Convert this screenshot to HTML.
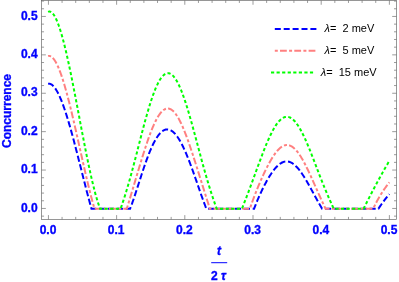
<!DOCTYPE html>
<html><head><meta charset="utf-8"><style>
html,body{margin:0;padding:0;background:#fff;}
svg{display:block;font-family:"Liberation Sans",sans-serif;}
.tl text{font-size:12px;font-weight:bold;fill:#0000ff;}
.lg text{font-size:11px;fill:#000;}
</style></head><body>
<svg width="399" height="282" viewBox="0 0 399 282">
<rect width="399" height="282" fill="#fff"/>
<g fill="none" stroke-width="2" stroke-linecap="butt" stroke-linejoin="miter">
<path stroke="#0000ff" stroke-dasharray="6.2 2.7" d="M48.13 83.69 L48.23 83.68 L48.73 83.64 L49.23 83.66 L49.73 83.75 L50.23 83.89 L50.73 84.09 L51.23 84.35 L51.73 84.67 L52.23 85.04 L52.73 85.47 L53.23 85.95 L53.73 86.48 L54.23 87.07 L54.73 87.71 L55.23 88.40 L55.73 89.13 L56.23 89.92 L56.73 90.75 L57.23 91.63 L57.73 92.55 L58.23 93.52 L58.73 94.53 L59.23 95.58 L59.73 96.68 L60.23 97.81 L60.73 98.99 L61.23 100.20 L61.73 101.45 L62.23 102.74 L62.73 104.07 L63.23 105.43 L63.73 106.82 L64.23 108.25 L64.73 109.71 L65.23 111.19 L65.73 112.71 L66.23 114.26 L66.73 115.84 L67.23 117.44 L67.73 119.07 L68.23 120.73 L68.73 122.41 L69.23 124.11 L69.73 125.84 L70.23 127.59 L70.73 129.36 L71.23 131.14 L71.73 132.95 L72.23 134.77 L72.73 136.62 L73.23 138.47 L73.73 140.34 L74.23 142.23 L74.73 144.13 L75.23 146.04 L75.73 147.96 L76.23 149.89 L76.73 151.84 L77.23 153.79 L77.73 155.74 L78.23 157.71 L78.73 159.67 L79.23 161.65 L79.73 163.62 L80.23 165.60 L80.73 167.58 L81.23 169.56 L81.73 171.54 L82.23 173.52 L82.73 175.50 L83.23 177.48 L83.73 179.45 L84.23 181.41 L84.73 183.37 L85.23 185.32 L85.73 187.27 L86.23 189.20 L86.73 191.13 L87.23 193.04 L87.73 194.94 L88.23 196.83 L88.73 198.71 L89.23 200.57 L89.73 202.42 L90.23 204.25 L90.73 206.06 L91.23 207.85 L91.47 208.70 L130.11 208.70 L130.20 208.47 L130.70 207.17 L131.20 205.84 L131.70 204.49 L132.20 203.10 L132.70 201.69 L133.20 200.25 L133.70 198.80 L134.20 197.32 L134.70 195.83 L135.20 194.32 L135.70 192.80 L136.20 191.27 L136.70 189.73 L137.20 188.18 L137.70 186.63 L138.20 185.08 L138.70 183.52 L139.20 181.96 L139.70 180.41 L140.20 178.86 L140.70 177.32 L141.20 175.78 L141.70 174.25 L142.20 172.73 L142.70 171.22 L143.20 169.72 L143.70 168.24 L144.20 166.77 L144.70 165.31 L145.20 163.88 L145.70 162.46 L146.20 161.06 L146.70 159.69 L147.20 158.33 L147.70 157.00 L148.20 155.69 L148.70 154.40 L149.20 153.14 L149.70 151.91 L150.20 150.70 L150.70 149.52 L151.20 148.37 L151.70 147.25 L152.20 146.15 L152.70 145.09 L153.20 144.06 L153.70 143.06 L154.20 142.10 L154.70 141.16 L155.20 140.26 L155.70 139.39 L156.20 138.56 L156.70 137.76 L157.20 137.00 L157.70 136.27 L158.20 135.58 L158.70 134.92 L159.20 134.30 L159.70 133.71 L160.20 133.16 L160.70 132.65 L161.20 132.18 L161.70 131.74 L162.20 131.34 L162.70 130.98 L163.20 130.65 L163.70 130.37 L164.20 130.12 L164.70 129.91 L165.20 129.73 L165.70 129.59 L166.20 129.50 L166.70 129.43 L167.20 129.41 L167.70 129.42 L168.20 129.47 L168.70 129.56 L169.20 129.69 L169.70 129.85 L170.20 130.05 L170.70 130.28 L171.20 130.55 L171.70 130.86 L172.20 131.20 L172.70 131.58 L173.20 131.99 L173.70 132.44 L174.20 132.92 L174.70 133.43 L175.20 133.98 L175.70 134.57 L176.20 135.18 L176.70 135.83 L177.20 136.51 L177.70 137.23 L178.20 137.97 L178.70 138.74 L179.20 139.55 L179.70 140.38 L180.20 141.25 L180.70 142.14 L181.20 143.06 L181.70 144.01 L182.20 144.99 L182.70 145.99 L183.20 147.01 L183.70 148.07 L184.20 149.15 L184.70 150.25 L185.20 151.37 L185.70 152.52 L186.20 153.69 L186.70 154.88 L187.20 156.09 L187.70 157.32 L188.20 158.57 L188.70 159.84 L189.20 161.12 L189.70 162.42 L190.20 163.74 L190.70 165.07 L191.20 166.42 L191.70 167.78 L192.20 169.15 L192.70 170.53 L193.20 171.93 L193.70 173.33 L194.20 174.74 L194.70 176.16 L195.20 177.58 L195.70 179.01 L196.20 180.45 L196.70 181.89 L197.20 183.33 L197.70 184.77 L198.20 186.21 L198.70 187.65 L199.20 189.09 L199.70 190.53 L200.20 191.96 L200.70 193.39 L201.20 194.81 L201.70 196.22 L202.20 197.62 L202.70 199.01 L203.20 200.39 L203.70 201.76 L204.20 203.11 L204.70 204.44 L205.20 205.76 L205.70 207.06 L206.20 208.34 L206.34 208.70 L254.12 208.70 L254.20 208.48 L254.70 207.17 L255.20 205.87 L255.70 204.60 L256.20 203.35 L256.70 202.13 L257.20 200.92 L257.70 199.73 L258.20 198.56 L258.70 197.41 L259.20 196.27 L259.70 195.15 L260.20 194.05 L260.70 192.96 L261.20 191.89 L261.70 190.84 L262.20 189.79 L262.70 188.77 L263.20 187.76 L263.70 186.76 L264.20 185.78 L264.70 184.81 L265.20 183.86 L265.70 182.92 L266.20 182.00 L266.70 181.09 L267.20 180.20 L267.70 179.33 L268.20 178.47 L268.70 177.63 L269.20 176.80 L269.70 175.99 L270.20 175.20 L270.70 174.43 L271.20 173.68 L271.70 172.94 L272.20 172.22 L272.70 171.52 L273.20 170.85 L273.70 170.19 L274.20 169.55 L274.70 168.94 L275.20 168.34 L275.70 167.77 L276.20 167.22 L276.70 166.69 L277.20 166.19 L277.70 165.71 L278.20 165.25 L278.70 164.82 L279.20 164.41 L279.70 164.03 L280.20 163.67 L280.70 163.34 L281.20 163.03 L281.70 162.75 L282.20 162.50 L282.70 162.27 L283.20 162.07 L283.70 161.90 L284.20 161.75 L284.70 161.63 L285.20 161.54 L285.70 161.48 L286.20 161.44 L286.70 161.43 L287.20 161.45 L287.70 161.50 L288.20 161.57 L288.70 161.68 L289.20 161.81 L289.70 161.97 L290.20 162.15 L290.70 162.36 L291.20 162.60 L291.70 162.87 L292.20 163.16 L292.70 163.48 L293.20 163.82 L293.70 164.19 L294.20 164.59 L294.70 165.01 L295.20 165.45 L295.70 165.92 L296.20 166.42 L296.70 166.93 L297.20 167.47 L297.70 168.03 L298.20 168.61 L298.70 169.22 L299.20 169.84 L299.70 170.48 L300.20 171.15 L300.70 171.83 L301.20 172.53 L301.70 173.25 L302.20 173.98 L302.70 174.73 L303.20 175.49 L303.70 176.27 L304.20 177.07 L304.70 177.87 L305.20 178.69 L305.70 179.52 L306.20 180.36 L306.70 181.21 L307.20 182.07 L307.70 182.94 L308.20 183.82 L308.70 184.70 L309.20 185.59 L309.70 186.49 L310.20 187.39 L310.70 188.29 L311.20 189.20 L311.70 190.11 L312.20 191.03 L312.70 191.94 L313.20 192.86 L313.70 193.77 L314.20 194.69 L314.70 195.60 L315.20 196.51 L315.70 197.42 L316.20 198.33 L316.70 199.24 L317.20 200.14 L317.70 201.04 L318.20 201.94 L318.70 202.83 L319.20 203.71 L319.70 204.60 L320.20 205.48 L320.70 206.35 L321.20 207.22 L321.70 208.09 L322.05 208.70 L378.43 208.70 L378.50 208.59 L379.00 207.86 L379.50 207.13 L380.00 206.41 L380.50 205.68 L381.00 204.97 L381.50 204.25 L382.00 203.55 L382.50 202.85 L383.00 202.15 L383.50 201.47 L384.00 200.79 L384.50 200.12 L385.00 199.46 L385.50 198.81 L386.00 198.17 L386.50 197.54 L387.00 196.92 L387.50 196.31 L388.00 195.72 L388.50 195.14 L389.00 194.57 L389.40 194.13"/>
<path stroke="#ff8080" stroke-dasharray="3 2.2 6.8 2.3" d="M48.13 56.05 L48.23 56.02 L48.73 55.94 L49.23 55.94 L49.73 56.01 L50.23 56.15 L50.73 56.36 L51.23 56.64 L51.73 56.99 L52.23 57.40 L52.73 57.88 L53.23 58.43 L53.73 59.03 L54.23 59.70 L54.73 60.43 L55.23 61.22 L55.73 62.07 L56.23 62.97 L56.73 63.93 L57.23 64.95 L57.73 66.02 L58.23 67.14 L58.73 68.31 L59.23 69.53 L59.73 70.80 L60.23 72.12 L60.73 73.49 L61.23 74.90 L61.73 76.35 L62.23 77.85 L62.73 79.38 L63.23 80.96 L63.73 82.58 L64.23 84.24 L64.73 85.93 L65.23 87.66 L65.73 89.42 L66.23 91.21 L66.73 93.04 L67.23 94.90 L67.73 96.79 L68.23 98.70 L68.73 100.65 L69.23 102.62 L69.73 104.61 L70.23 106.63 L70.73 108.67 L71.23 110.73 L71.73 112.81 L72.23 114.91 L72.73 117.03 L73.23 119.17 L73.73 121.32 L74.23 123.48 L74.73 125.66 L75.23 127.85 L75.73 130.04 L76.23 132.25 L76.73 134.47 L77.23 136.69 L77.73 138.92 L78.23 141.16 L78.73 143.39 L79.23 145.63 L79.73 147.87 L80.23 150.11 L80.73 152.35 L81.23 154.59 L81.73 156.82 L82.23 159.05 L82.73 161.27 L83.23 163.48 L83.73 165.69 L84.23 167.88 L84.73 170.06 L85.23 172.24 L85.73 174.39 L86.23 176.54 L86.73 178.67 L87.23 180.78 L87.73 182.87 L88.23 184.94 L88.73 187.00 L89.23 189.03 L89.73 191.04 L90.23 193.02 L90.73 194.98 L91.23 196.91 L91.73 198.81 L92.23 200.69 L92.73 202.54 L93.23 204.35 L93.73 206.13 L94.23 207.88 L94.47 208.70 L126.81 208.70 L126.90 208.40 L127.40 206.76 L127.90 205.11 L128.40 203.46 L128.90 201.81 L129.40 200.16 L129.90 198.51 L130.40 196.85 L130.90 195.19 L131.40 193.53 L131.90 191.87 L132.40 190.20 L132.90 188.53 L133.40 186.86 L133.90 185.19 L134.40 183.52 L134.90 181.84 L135.40 180.16 L135.90 178.49 L136.40 176.81 L136.90 175.14 L137.40 173.46 L137.90 171.79 L138.40 170.12 L138.90 168.46 L139.40 166.80 L139.90 165.14 L140.40 163.49 L140.90 161.85 L141.40 160.22 L141.90 158.59 L142.40 156.97 L142.90 155.37 L143.40 153.77 L143.90 152.19 L144.40 150.62 L144.90 149.07 L145.40 147.53 L145.90 146.01 L146.40 144.50 L146.90 143.02 L147.40 141.55 L147.90 140.10 L148.40 138.68 L148.90 137.27 L149.40 135.89 L149.90 134.54 L150.40 133.21 L150.90 131.90 L151.40 130.62 L151.90 129.37 L152.40 128.15 L152.90 126.96 L153.40 125.80 L153.90 124.67 L154.40 123.58 L154.90 122.51 L155.40 121.48 L155.90 120.49 L156.40 119.53 L156.90 118.61 L157.40 117.72 L157.90 116.87 L158.40 116.06 L158.90 115.29 L159.40 114.56 L159.90 113.86 L160.40 113.21 L160.90 112.60 L161.40 112.03 L161.90 111.50 L162.40 111.01 L162.90 110.57 L163.40 110.17 L163.90 109.81 L164.40 109.50 L164.90 109.22 L165.40 109.00 L165.90 108.81 L166.40 108.67 L166.90 108.58 L167.40 108.53 L167.90 108.52 L168.40 108.55 L168.90 108.63 L169.40 108.76 L169.90 108.93 L170.40 109.14 L170.90 109.39 L171.40 109.69 L171.90 110.03 L172.40 110.41 L172.90 110.84 L173.40 111.31 L173.90 111.81 L174.40 112.36 L174.90 112.95 L175.40 113.58 L175.90 114.25 L176.40 114.96 L176.90 115.71 L177.40 116.49 L177.90 117.31 L178.40 118.17 L178.90 119.06 L179.40 119.99 L179.90 120.95 L180.40 121.94 L180.90 122.97 L181.40 124.03 L181.90 125.12 L182.40 126.24 L182.90 127.39 L183.40 128.56 L183.90 129.77 L184.40 131.00 L184.90 132.25 L185.40 133.53 L185.90 134.84 L186.40 136.16 L186.90 137.51 L187.40 138.88 L187.90 140.27 L188.40 141.68 L188.90 143.10 L189.40 144.55 L189.90 146.00 L190.40 147.48 L190.90 148.96 L191.40 150.46 L191.90 151.97 L192.40 153.50 L192.90 155.03 L193.40 156.57 L193.90 158.12 L194.40 159.68 L194.90 161.24 L195.40 162.82 L195.90 164.39 L196.40 165.97 L196.90 167.56 L197.40 169.15 L197.90 170.74 L198.40 172.33 L198.90 173.92 L199.40 175.52 L199.90 177.11 L200.40 178.71 L200.90 180.30 L201.40 181.90 L201.90 183.49 L202.40 185.08 L202.90 186.67 L203.40 188.26 L203.90 189.85 L204.40 191.44 L204.90 193.03 L205.40 194.62 L205.90 196.21 L206.40 197.79 L206.90 199.38 L207.40 200.97 L207.90 202.56 L208.40 204.16 L208.90 205.76 L209.40 207.36 L209.81 208.70 L249.95 208.70 L250.05 208.40 L250.55 206.89 L251.05 205.41 L251.55 203.95 L252.05 202.52 L252.55 201.11 L253.05 199.73 L253.55 198.37 L254.05 197.03 L254.55 195.70 L255.05 194.40 L255.55 193.11 L256.05 191.84 L256.55 190.59 L257.05 189.34 L257.55 188.12 L258.05 186.90 L258.55 185.70 L259.05 184.51 L259.55 183.33 L260.05 182.17 L260.55 181.02 L261.05 179.88 L261.55 178.75 L262.05 177.63 L262.55 176.53 L263.05 175.43 L263.55 174.35 L264.05 173.28 L264.55 172.22 L265.05 171.18 L265.55 170.15 L266.05 169.13 L266.55 168.12 L267.05 167.13 L267.55 166.16 L268.05 165.20 L268.55 164.25 L269.05 163.32 L269.55 162.41 L270.05 161.51 L270.55 160.64 L271.05 159.78 L271.55 158.93 L272.05 158.11 L272.55 157.31 L273.05 156.53 L273.55 155.77 L274.05 155.03 L274.55 154.31 L275.05 153.62 L275.55 152.95 L276.05 152.30 L276.55 151.67 L277.05 151.08 L277.55 150.50 L278.05 149.96 L278.55 149.44 L279.05 148.94 L279.55 148.48 L280.05 148.04 L280.55 147.63 L281.05 147.25 L281.55 146.90 L282.05 146.57 L282.55 146.28 L283.05 146.02 L283.55 145.79 L284.05 145.58 L284.55 145.41 L285.05 145.27 L285.55 145.17 L286.05 145.09 L286.55 145.05 L287.05 145.03 L287.55 145.05 L288.05 145.10 L288.55 145.18 L289.05 145.30 L289.55 145.45 L290.05 145.62 L290.55 145.83 L291.05 146.08 L291.55 146.35 L292.05 146.65 L292.55 146.99 L293.05 147.36 L293.55 147.75 L294.05 148.18 L294.55 148.64 L295.05 149.12 L295.55 149.64 L296.05 150.18 L296.55 150.75 L297.05 151.35 L297.55 151.98 L298.05 152.63 L298.55 153.31 L299.05 154.02 L299.55 154.75 L300.05 155.50 L300.55 156.28 L301.05 157.08 L301.55 157.91 L302.05 158.75 L302.55 159.62 L303.05 160.50 L303.55 161.41 L304.05 162.33 L304.55 163.28 L305.05 164.23 L305.55 165.21 L306.05 166.20 L306.55 167.20 L307.05 168.22 L307.55 169.25 L308.05 170.30 L308.55 171.35 L309.05 172.41 L309.55 173.49 L310.05 174.57 L310.55 175.66 L311.05 176.76 L311.55 177.86 L312.05 178.97 L312.55 180.08 L313.05 181.20 L313.55 182.32 L314.05 183.45 L314.55 184.57 L315.05 185.70 L315.55 186.82 L316.05 187.95 L316.55 189.08 L317.05 190.20 L317.55 191.32 L318.05 192.44 L318.55 193.56 L319.05 194.67 L319.55 195.78 L320.05 196.89 L320.55 197.99 L321.05 199.09 L321.55 200.19 L322.05 201.28 L322.55 202.37 L323.05 203.45 L323.55 204.53 L324.05 205.61 L324.55 206.68 L325.05 207.75 L325.50 208.70 L373.21 208.70 L373.30 208.51 L373.80 207.45 L374.30 206.41 L374.80 205.38 L375.30 204.38 L375.80 203.40 L376.30 202.44 L376.80 201.49 L377.30 200.57 L377.80 199.66 L378.30 198.77 L378.80 197.89 L379.30 197.03 L379.80 196.18 L380.30 195.35 L380.80 194.54 L381.30 193.74 L381.80 192.95 L382.30 192.17 L382.80 191.41 L383.30 190.66 L383.80 189.92 L384.30 189.19 L384.80 188.47 L385.30 187.77 L385.80 187.07 L386.30 186.38 L386.80 185.70 L387.30 185.03 L387.80 184.37 L388.30 183.71 L388.80 183.06 L389.30 182.42 L389.40 182.29"/>
<path stroke="#00ff00" stroke-dasharray="3.2 2.36" d="M48.13 11.87 L48.23 11.82 L48.73 11.66 L49.23 11.58 L49.73 11.60 L50.23 11.70 L50.73 11.89 L51.23 12.17 L51.73 12.53 L52.23 12.97 L52.73 13.49 L53.23 14.09 L53.73 14.77 L54.23 15.52 L54.73 16.35 L55.23 17.25 L55.73 18.22 L56.23 19.27 L56.73 20.38 L57.23 21.56 L57.73 22.80 L58.23 24.11 L58.73 25.48 L59.23 26.92 L59.73 28.41 L60.23 29.96 L60.73 31.56 L61.23 33.23 L61.73 34.94 L62.23 36.71 L62.73 38.53 L63.23 40.39 L63.73 42.31 L64.23 44.27 L64.73 46.27 L65.23 48.32 L65.73 50.41 L66.23 52.54 L66.73 54.71 L67.23 56.91 L67.73 59.15 L68.23 61.43 L68.73 63.73 L69.23 66.07 L69.73 68.44 L70.23 70.83 L70.73 73.26 L71.23 75.70 L71.73 78.17 L72.23 80.67 L72.73 83.18 L73.23 85.71 L73.73 88.26 L74.23 90.83 L74.73 93.41 L75.23 96.00 L75.73 98.61 L76.23 101.22 L76.73 103.84 L77.23 106.47 L77.73 109.11 L78.23 111.75 L78.73 114.39 L79.23 117.03 L79.73 119.68 L80.23 122.32 L80.73 124.95 L81.23 127.59 L81.73 130.21 L82.23 132.83 L82.73 135.44 L83.23 138.03 L83.73 140.62 L84.23 143.19 L84.73 145.74 L85.23 148.28 L85.73 150.80 L86.23 153.30 L86.73 155.78 L87.23 158.23 L87.73 160.66 L88.23 163.06 L88.73 165.44 L89.23 167.79 L89.73 170.10 L90.23 172.39 L90.73 174.64 L91.23 176.86 L91.73 179.03 L92.23 181.18 L92.73 183.28 L93.23 185.34 L93.73 187.36 L94.23 189.33 L94.73 191.26 L95.23 193.14 L95.73 194.97 L96.23 196.76 L96.73 198.49 L97.23 200.16 L97.73 201.79 L98.23 203.36 L98.73 204.87 L99.23 206.32 L99.73 207.71 L100.10 208.70 L120.58 208.70 L120.60 208.65 L121.10 207.25 L121.60 205.83 L122.10 204.38 L122.60 202.91 L123.10 201.42 L123.60 199.90 L124.10 198.36 L124.60 196.80 L125.10 195.22 L125.60 193.61 L126.10 191.98 L126.60 190.33 L127.10 188.65 L127.60 186.96 L128.10 185.24 L128.60 183.51 L129.10 181.75 L129.60 179.98 L130.10 178.19 L130.60 176.38 L131.10 174.55 L131.60 172.71 L132.10 170.85 L132.60 168.98 L133.10 167.10 L133.60 165.21 L134.10 163.30 L134.60 161.38 L135.10 159.46 L135.60 157.53 L136.10 155.59 L136.60 153.65 L137.10 151.70 L137.60 149.75 L138.10 147.80 L138.60 145.85 L139.10 143.90 L139.60 141.95 L140.10 140.01 L140.60 138.07 L141.10 136.14 L141.60 134.21 L142.10 132.29 L142.60 130.39 L143.10 128.49 L143.60 126.61 L144.10 124.74 L144.60 122.89 L145.10 121.05 L145.60 119.23 L146.10 117.43 L146.60 115.66 L147.10 113.90 L147.60 112.16 L148.10 110.45 L148.60 108.77 L149.10 107.11 L149.60 105.48 L150.10 103.88 L150.60 102.31 L151.10 100.77 L151.60 99.26 L152.10 97.79 L152.60 96.35 L153.10 94.94 L153.60 93.58 L154.10 92.25 L154.60 90.95 L155.10 89.70 L155.60 88.49 L156.10 87.32 L156.60 86.19 L157.10 85.10 L157.60 84.06 L158.10 83.06 L158.60 82.11 L159.10 81.20 L159.60 80.34 L160.10 79.52 L160.60 78.75 L161.10 78.03 L161.60 77.36 L162.10 76.74 L162.60 76.17 L163.10 75.64 L163.60 75.17 L164.10 74.75 L164.60 74.38 L165.10 74.06 L165.60 73.79 L166.10 73.57 L166.60 73.40 L167.10 73.29 L167.60 73.22 L168.10 73.21 L168.60 73.25 L169.10 73.34 L169.60 73.48 L170.10 73.68 L170.60 73.92 L171.10 74.22 L171.60 74.56 L172.10 74.96 L172.60 75.41 L173.10 75.90 L173.60 76.45 L174.10 77.04 L174.60 77.68 L175.10 78.37 L175.60 79.11 L176.10 79.89 L176.60 80.72 L177.10 81.60 L177.60 82.52 L178.10 83.48 L178.60 84.49 L179.10 85.54 L179.60 86.63 L180.10 87.77 L180.60 88.94 L181.10 90.15 L181.60 91.40 L182.10 92.69 L182.60 94.01 L183.10 95.37 L183.60 96.76 L184.10 98.18 L184.60 99.64 L185.10 101.13 L185.60 102.65 L186.10 104.20 L186.60 105.77 L187.10 107.37 L187.60 109.00 L188.10 110.65 L188.60 112.33 L189.10 114.02 L189.60 115.74 L190.10 117.48 L190.60 119.23 L191.10 121.00 L191.60 122.79 L192.10 124.59 L192.60 126.40 L193.10 128.23 L193.60 130.06 L194.10 131.91 L194.60 133.76 L195.10 135.62 L195.60 137.49 L196.10 139.36 L196.60 141.23 L197.10 143.11 L197.60 144.99 L198.10 146.86 L198.60 148.74 L199.10 150.61 L199.60 152.48 L200.10 154.34 L200.60 156.20 L201.10 158.05 L201.60 159.89 L202.10 161.73 L202.60 163.55 L203.10 165.37 L203.60 167.17 L204.10 168.96 L204.60 170.74 L205.10 172.50 L205.60 174.25 L206.10 175.99 L206.60 177.70 L207.10 179.41 L207.60 181.09 L208.10 182.76 L208.60 184.41 L209.10 186.05 L209.60 187.66 L210.10 189.26 L210.60 190.84 L211.10 192.40 L211.60 193.95 L212.10 195.48 L212.60 196.99 L213.10 198.48 L213.60 199.95 L214.10 201.41 L214.60 202.86 L215.10 204.28 L215.60 205.70 L216.10 207.10 L216.60 208.49 L216.68 208.70 L241.99 208.70 L242.00 208.67 L242.50 207.39 L243.00 206.10 L243.50 204.81 L244.00 203.53 L244.50 202.23 L245.00 200.94 L245.50 199.65 L246.00 198.34 L246.50 197.04 L247.00 195.73 L247.50 194.42 L248.00 193.10 L248.50 191.78 L249.00 190.45 L249.50 189.12 L250.00 187.79 L250.50 186.45 L251.00 185.10 L251.50 183.75 L252.00 182.40 L252.50 181.05 L253.00 179.69 L253.50 178.33 L254.00 176.96 L254.50 175.60 L255.00 174.23 L255.50 172.86 L256.00 171.49 L256.50 170.13 L257.00 168.76 L257.50 167.40 L258.00 166.03 L258.50 164.68 L259.00 163.32 L259.50 161.97 L260.00 160.62 L260.50 159.29 L261.00 157.95 L261.50 156.63 L262.00 155.31 L262.50 154.00 L263.00 152.71 L263.50 151.42 L264.00 150.14 L264.50 148.88 L265.00 147.63 L265.50 146.40 L266.00 145.18 L266.50 143.97 L267.00 142.79 L267.50 141.61 L268.00 140.46 L268.50 139.33 L269.00 138.22 L269.50 137.12 L270.00 136.05 L270.50 135.00 L271.00 133.98 L271.50 132.97 L272.00 131.99 L272.50 131.04 L273.00 130.11 L273.50 129.21 L274.00 128.34 L274.50 127.49 L275.00 126.67 L275.50 125.88 L276.00 125.12 L276.50 124.40 L277.00 123.70 L277.50 123.03 L278.00 122.39 L278.50 121.79 L279.00 121.22 L279.50 120.68 L280.00 120.18 L280.50 119.71 L281.00 119.27 L281.50 118.87 L282.00 118.50 L282.50 118.17 L283.00 117.88 L283.50 117.62 L284.00 117.39 L284.50 117.20 L285.00 117.05 L285.50 116.93 L286.00 116.85 L286.50 116.81 L287.00 116.80 L287.50 116.83 L288.00 116.90 L288.50 117.00 L289.00 117.13 L289.50 117.31 L290.00 117.52 L290.50 117.76 L291.00 118.04 L291.50 118.36 L292.00 118.71 L292.50 119.10 L293.00 119.52 L293.50 119.97 L294.00 120.46 L294.50 120.98 L295.00 121.53 L295.50 122.12 L296.00 122.74 L296.50 123.39 L297.00 124.07 L297.50 124.78 L298.00 125.52 L298.50 126.29 L299.00 127.09 L299.50 127.92 L300.00 128.78 L300.50 129.66 L301.00 130.57 L301.50 131.50 L302.00 132.46 L302.50 133.44 L303.00 134.44 L303.50 135.47 L304.00 136.52 L304.50 137.59 L305.00 138.67 L305.50 139.78 L306.00 140.91 L306.50 142.05 L307.00 143.21 L307.50 144.39 L308.00 145.58 L308.50 146.78 L309.00 148.00 L309.50 149.23 L310.00 150.47 L310.50 151.72 L311.00 152.98 L311.50 154.25 L312.00 155.53 L312.50 156.81 L313.00 158.10 L313.50 159.39 L314.00 160.69 L314.50 161.99 L315.00 163.30 L315.50 164.61 L316.00 165.91 L316.50 167.22 L317.00 168.53 L317.50 169.83 L318.00 171.14 L318.50 172.44 L319.00 173.74 L319.50 175.03 L320.00 176.32 L320.50 177.60 L321.00 178.88 L321.50 180.15 L322.00 181.41 L322.50 182.67 L323.00 183.92 L323.50 185.16 L324.00 186.39 L324.50 187.62 L325.00 188.83 L325.50 190.04 L326.00 191.24 L326.50 192.42 L327.00 193.60 L327.50 194.77 L328.00 195.93 L328.50 197.08 L329.00 198.22 L329.50 199.36 L330.00 200.48 L330.50 201.60 L331.00 202.71 L331.50 203.81 L332.00 204.91 L332.50 206.01 L333.00 207.09 L333.50 208.18 L333.74 208.70 L363.63 208.70 L363.70 208.55 L364.20 207.54 L364.70 206.54 L365.20 205.53 L365.70 204.53 L366.20 203.54 L366.70 202.54 L367.20 201.55 L367.70 200.56 L368.20 199.58 L368.70 198.60 L369.20 197.62 L369.70 196.64 L370.20 195.67 L370.70 194.70 L371.20 193.73 L371.70 192.77 L372.20 191.81 L372.70 190.85 L373.20 189.90 L373.70 188.95 L374.20 188.00 L374.70 187.05 L375.20 186.11 L375.70 185.17 L376.20 184.24 L376.70 183.30 L377.20 182.38 L377.70 181.45 L378.20 180.53 L378.70 179.61 L379.20 178.69 L379.70 177.78 L380.20 176.87 L380.70 175.96 L381.20 175.06 L381.70 174.16 L382.20 173.27 L382.70 172.37 L383.20 171.49 L383.70 170.60 L384.20 169.72 L384.70 168.84 L385.20 167.96 L385.70 167.09 L386.20 166.22 L386.70 165.35 L387.20 164.49 L387.70 163.63 L388.20 162.78 L388.70 161.93 L389.20 161.08 L389.40 160.74"/>
</g>
<g stroke="#666" stroke-width="0.65" fill="none"><line x1="48.43" y1="219.40" x2="48.43" y2="215.10"/><line x1="48.43" y1="0.45" x2="48.43" y2="4.75"/><line x1="62.07" y1="219.40" x2="62.07" y2="216.90"/><line x1="62.07" y1="0.45" x2="62.07" y2="2.95"/><line x1="75.71" y1="219.40" x2="75.71" y2="216.90"/><line x1="75.71" y1="0.45" x2="75.71" y2="2.95"/><line x1="89.34" y1="219.40" x2="89.34" y2="216.90"/><line x1="89.34" y1="0.45" x2="89.34" y2="2.95"/><line x1="102.98" y1="219.40" x2="102.98" y2="216.90"/><line x1="102.98" y1="0.45" x2="102.98" y2="2.95"/><line x1="116.62" y1="219.40" x2="116.62" y2="215.10"/><line x1="116.62" y1="0.45" x2="116.62" y2="4.75"/><line x1="130.26" y1="219.40" x2="130.26" y2="216.90"/><line x1="130.26" y1="0.45" x2="130.26" y2="2.95"/><line x1="143.90" y1="219.40" x2="143.90" y2="216.90"/><line x1="143.90" y1="0.45" x2="143.90" y2="2.95"/><line x1="157.53" y1="219.40" x2="157.53" y2="216.90"/><line x1="157.53" y1="0.45" x2="157.53" y2="2.95"/><line x1="171.17" y1="219.40" x2="171.17" y2="216.90"/><line x1="171.17" y1="0.45" x2="171.17" y2="2.95"/><line x1="184.81" y1="219.40" x2="184.81" y2="215.10"/><line x1="184.81" y1="0.45" x2="184.81" y2="4.75"/><line x1="198.45" y1="219.40" x2="198.45" y2="216.90"/><line x1="198.45" y1="0.45" x2="198.45" y2="2.95"/><line x1="212.09" y1="219.40" x2="212.09" y2="216.90"/><line x1="212.09" y1="0.45" x2="212.09" y2="2.95"/><line x1="225.72" y1="219.40" x2="225.72" y2="216.90"/><line x1="225.72" y1="0.45" x2="225.72" y2="2.95"/><line x1="239.36" y1="219.40" x2="239.36" y2="216.90"/><line x1="239.36" y1="0.45" x2="239.36" y2="2.95"/><line x1="253.00" y1="219.40" x2="253.00" y2="215.10"/><line x1="253.00" y1="0.45" x2="253.00" y2="4.75"/><line x1="266.64" y1="219.40" x2="266.64" y2="216.90"/><line x1="266.64" y1="0.45" x2="266.64" y2="2.95"/><line x1="280.28" y1="219.40" x2="280.28" y2="216.90"/><line x1="280.28" y1="0.45" x2="280.28" y2="2.95"/><line x1="293.91" y1="219.40" x2="293.91" y2="216.90"/><line x1="293.91" y1="0.45" x2="293.91" y2="2.95"/><line x1="307.55" y1="219.40" x2="307.55" y2="216.90"/><line x1="307.55" y1="0.45" x2="307.55" y2="2.95"/><line x1="321.19" y1="219.40" x2="321.19" y2="215.10"/><line x1="321.19" y1="0.45" x2="321.19" y2="4.75"/><line x1="334.83" y1="219.40" x2="334.83" y2="216.90"/><line x1="334.83" y1="0.45" x2="334.83" y2="2.95"/><line x1="348.47" y1="219.40" x2="348.47" y2="216.90"/><line x1="348.47" y1="0.45" x2="348.47" y2="2.95"/><line x1="362.10" y1="219.40" x2="362.10" y2="216.90"/><line x1="362.10" y1="0.45" x2="362.10" y2="2.95"/><line x1="375.74" y1="219.40" x2="375.74" y2="216.90"/><line x1="375.74" y1="0.45" x2="375.74" y2="2.95"/><line x1="389.38" y1="219.40" x2="389.38" y2="215.10"/><line x1="389.38" y1="0.45" x2="389.38" y2="4.75"/><line x1="41.55" y1="216.13" x2="44.05" y2="216.13"/><line x1="396.50" y1="216.13" x2="394.00" y2="216.13"/><line x1="41.55" y1="208.45" x2="45.85" y2="208.45"/><line x1="396.50" y1="208.45" x2="392.20" y2="208.45"/><line x1="41.55" y1="200.77" x2="44.05" y2="200.77"/><line x1="396.50" y1="200.77" x2="394.00" y2="200.77"/><line x1="41.55" y1="193.09" x2="44.05" y2="193.09"/><line x1="396.50" y1="193.09" x2="394.00" y2="193.09"/><line x1="41.55" y1="185.41" x2="44.05" y2="185.41"/><line x1="396.50" y1="185.41" x2="394.00" y2="185.41"/><line x1="41.55" y1="177.73" x2="44.05" y2="177.73"/><line x1="396.50" y1="177.73" x2="394.00" y2="177.73"/><line x1="41.55" y1="170.05" x2="45.85" y2="170.05"/><line x1="396.50" y1="170.05" x2="392.20" y2="170.05"/><line x1="41.55" y1="162.37" x2="44.05" y2="162.37"/><line x1="396.50" y1="162.37" x2="394.00" y2="162.37"/><line x1="41.55" y1="154.69" x2="44.05" y2="154.69"/><line x1="396.50" y1="154.69" x2="394.00" y2="154.69"/><line x1="41.55" y1="147.01" x2="44.05" y2="147.01"/><line x1="396.50" y1="147.01" x2="394.00" y2="147.01"/><line x1="41.55" y1="139.33" x2="44.05" y2="139.33"/><line x1="396.50" y1="139.33" x2="394.00" y2="139.33"/><line x1="41.55" y1="131.65" x2="45.85" y2="131.65"/><line x1="396.50" y1="131.65" x2="392.20" y2="131.65"/><line x1="41.55" y1="123.97" x2="44.05" y2="123.97"/><line x1="396.50" y1="123.97" x2="394.00" y2="123.97"/><line x1="41.55" y1="116.29" x2="44.05" y2="116.29"/><line x1="396.50" y1="116.29" x2="394.00" y2="116.29"/><line x1="41.55" y1="108.61" x2="44.05" y2="108.61"/><line x1="396.50" y1="108.61" x2="394.00" y2="108.61"/><line x1="41.55" y1="100.93" x2="44.05" y2="100.93"/><line x1="396.50" y1="100.93" x2="394.00" y2="100.93"/><line x1="41.55" y1="93.25" x2="45.85" y2="93.25"/><line x1="396.50" y1="93.25" x2="392.20" y2="93.25"/><line x1="41.55" y1="85.57" x2="44.05" y2="85.57"/><line x1="396.50" y1="85.57" x2="394.00" y2="85.57"/><line x1="41.55" y1="77.89" x2="44.05" y2="77.89"/><line x1="396.50" y1="77.89" x2="394.00" y2="77.89"/><line x1="41.55" y1="70.21" x2="44.05" y2="70.21"/><line x1="396.50" y1="70.21" x2="394.00" y2="70.21"/><line x1="41.55" y1="62.53" x2="44.05" y2="62.53"/><line x1="396.50" y1="62.53" x2="394.00" y2="62.53"/><line x1="41.55" y1="54.85" x2="45.85" y2="54.85"/><line x1="396.50" y1="54.85" x2="392.20" y2="54.85"/><line x1="41.55" y1="47.17" x2="44.05" y2="47.17"/><line x1="396.50" y1="47.17" x2="394.00" y2="47.17"/><line x1="41.55" y1="39.49" x2="44.05" y2="39.49"/><line x1="396.50" y1="39.49" x2="394.00" y2="39.49"/><line x1="41.55" y1="31.81" x2="44.05" y2="31.81"/><line x1="396.50" y1="31.81" x2="394.00" y2="31.81"/><line x1="41.55" y1="24.13" x2="44.05" y2="24.13"/><line x1="396.50" y1="24.13" x2="394.00" y2="24.13"/><line x1="41.55" y1="16.45" x2="45.85" y2="16.45"/><line x1="396.50" y1="16.45" x2="392.20" y2="16.45"/><line x1="41.55" y1="8.77" x2="44.05" y2="8.77"/><line x1="396.50" y1="8.77" x2="394.00" y2="8.77"/><line x1="41.55" y1="1.09" x2="44.05" y2="1.09"/><line x1="396.50" y1="1.09" x2="394.00" y2="1.09"/></g>
<rect x="41.55" y="0.45" width="354.95" height="218.95" fill="none" stroke="#666" stroke-width="0.68"/>
<g class="tl" stroke="#0000ff" stroke-width="0.35" style="opacity:0.999"><text x="48.0" y="233.6" text-anchor="middle">0.0</text><text x="116.2" y="233.6" text-anchor="middle">0.1</text><text x="184.4" y="233.6" text-anchor="middle">0.2</text><text x="252.6" y="233.6" text-anchor="middle">0.3</text><text x="320.8" y="233.6" text-anchor="middle">0.4</text><text x="389.0" y="233.6" text-anchor="middle">0.5</text><text x="37.6" y="211.6" text-anchor="end">0.0</text><text x="37.6" y="173.2" text-anchor="end">0.1</text><text x="37.6" y="134.8" text-anchor="end">0.2</text><text x="37.6" y="96.4" text-anchor="end">0.3</text><text x="37.6" y="58.0" text-anchor="end">0.4</text><text x="37.6" y="19.6" text-anchor="end">0.5</text>
<text transform="translate(11.4,111.0) rotate(-90)" text-anchor="middle">Concurrence</text>
<text x="219" y="254.7" text-anchor="middle" font-style="italic">t</text>
<rect x="211.2" y="262.2" width="16" height="1" stroke="none" fill="#0000ff"/>
<text x="211" y="279.8">2 <tspan font-style="italic">&#964;</tspan></text>
</g>
<g fill="none" stroke-width="2">
<path stroke="#0000ff" stroke-dasharray="6 2.9" d="M274.8 28.9H316.9"/>
<path stroke="#ff8080" stroke-dasharray="3 2.2 6.8 2.3" d="M274.8 50.8H316.9"/>
<path stroke="#00ff00" stroke-dasharray="3.2 2.36" d="M271 72.6H313.1"/>
</g>
<g class="lg" style="opacity:0.999">
<text x="324.5" y="31.8" xml:space="preserve"><tspan font-style="italic">&#955;</tspan>=  2 meV</text>
<text x="324.5" y="54.1" xml:space="preserve"><tspan font-style="italic">&#955;</tspan>=  5 meV</text>
<text x="320.8" y="76.4" xml:space="preserve"><tspan font-style="italic">&#955;</tspan>=  15 meV</text>
</g>
</svg>
</body></html>
